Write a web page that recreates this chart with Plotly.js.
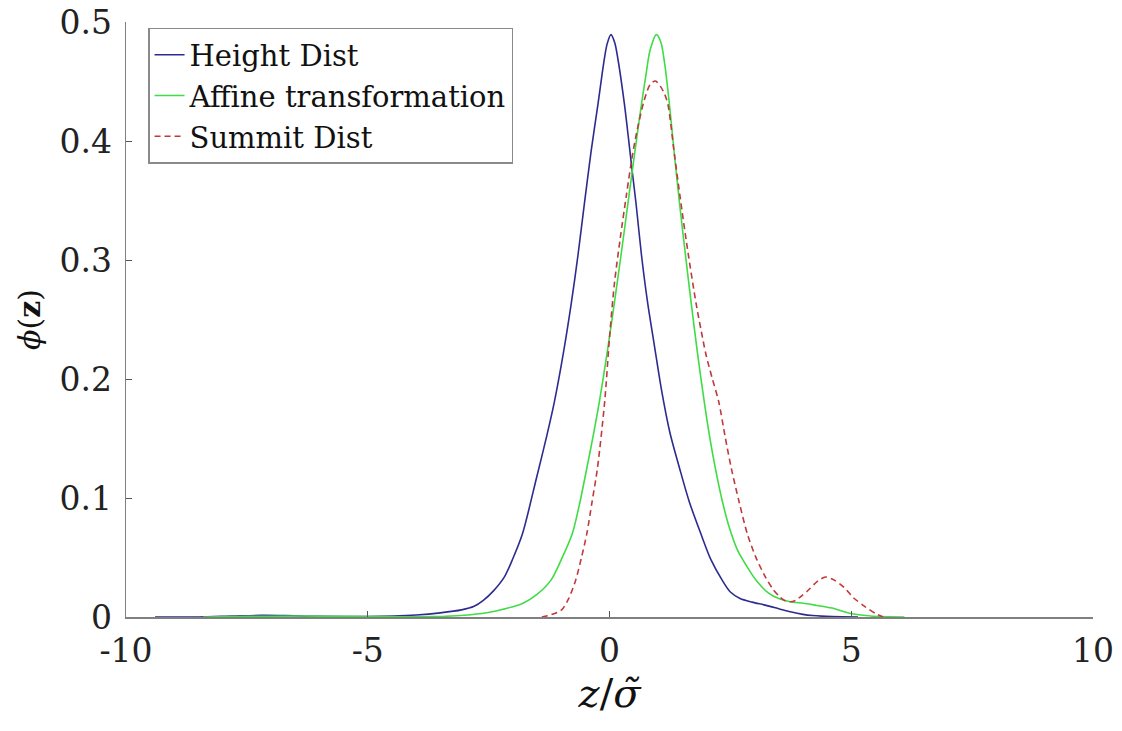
<!DOCTYPE html>
<html>
<head>
<meta charset="utf-8">
<script src="https://cdn.plot.ly/plotly-3.0.1.min.js"></script>
<style>html,body{margin:0;padding:0;background:#fff;}#chart{width:1122px;height:731px;}</style>
</head>
<body>
<div id="chart"></div>
<script>
// Series names
const seriesNames = ["Height Dist", "Affine transformation", "Summit Dist"];

// Height Dist (blue)
const heightX = [-9.4, -8.5, -7.8, -7.2, -6.7, -6.0, -5.0, -4.5, -4.0, -3.5, -3.06, -2.8, -2.61, -2.4, -2.17, -2.0, -1.80, -1.51, -1.30, -1.14, -0.95, -0.79, -0.65, -0.52, -0.38, -0.24, -0.12, -0.05, 0.03, 0.11, 0.18, 0.31, 0.40, 0.47, 0.55, 0.66, 0.79, 0.93, 1.08, 1.25, 1.45, 1.65, 1.89, 2.10, 2.33, 2.50, 2.70, 2.95, 3.22, 3.5, 3.74, 4.0, 4.2, 4.6, 5.14];
const heightY = [0, 0, 0.0008, 0.0014, 0.0012, 0.0005, 0.0004, 0.0008, 0.0017, 0.0035, 0.006, 0.009, 0.014, 0.022, 0.034, 0.049, 0.070, 0.117, 0.152, 0.181, 0.223, 0.264, 0.305, 0.3475, 0.392, 0.431, 0.466, 0.482, 0.49, 0.483, 0.468, 0.431, 0.400, 0.375, 0.3475, 0.305, 0.264, 0.228, 0.190, 0.155, 0.125, 0.097, 0.070, 0.048, 0.031, 0.021, 0.0156, 0.0125, 0.010, 0.007, 0.0044, 0.0022, 0.0012, 0.0003, 0];

// Affine transformation (green)
const affineX = [-8.4, -7.5, -6.5, -5.5, -4.5, -3.65, -3.0, -2.54, -2.2, -1.80, -1.5, -1.21, -1.0, -0.77, -0.62, -0.47, -0.34, -0.21, -0.05, 0.10, 0.24, 0.38, 0.47, 0.56, 0.66, 0.75, 0.84, 0.97, 1.06, 1.14, 1.24, 1.34, 1.45, 1.57, 1.69, 1.82, 1.96, 2.07, 2.19, 2.33, 2.48, 2.65, 2.85, 3.05, 3.29, 3.5, 3.74, 4.0, 4.25, 4.6, 4.99, 5.3, 5.58, 6.1];
const affineY = [0, 0.0005, 0.0008, 0.0005, 0.0003, 0.0003, 0.0015, 0.0036, 0.0065, 0.0114, 0.019, 0.031, 0.048, 0.070, 0.095, 0.125, 0.152, 0.181, 0.222, 0.264, 0.305, 0.3475, 0.375, 0.402, 0.431, 0.455, 0.477, 0.49, 0.484, 0.466, 0.431, 0.390, 0.3475, 0.305, 0.264, 0.222, 0.181, 0.152, 0.125, 0.098, 0.075, 0.056, 0.042, 0.030, 0.020, 0.0155, 0.0128, 0.0115, 0.010, 0.0075, 0.003, 0.0012, 0.0003, 0];

// Summit Dist (red dashed)
const summitX = [-1.40, -1.2, -0.99, -0.85, -0.70, -0.58, -0.47, -0.36, -0.25, -0.10, 0.0, 0.10, 0.22, 0.35, 0.48, 0.60, 0.72, 0.84, 0.95, 1.06, 1.14, 1.21, 1.34, 1.48, 1.63, 1.79, 1.9, 2.0, 2.13, 2.26, 2.39, 2.52, 2.68, 2.85, 3.03, 3.22, 3.37, 3.52, 3.64, 3.74, 3.85, 3.95, 4.11, 4.3, 4.47, 4.65, 4.85, 5.05, 5.29, 5.5, 5.66];
const summitY = [0, 0.002, 0.006, 0.015, 0.031, 0.050, 0.070, 0.097, 0.125, 0.181, 0.235, 0.280, 0.318, 0.355, 0.390, 0.415, 0.435, 0.448, 0.451, 0.446, 0.440, 0.431, 0.390, 0.3475, 0.305, 0.264, 0.240, 0.220, 0.200, 0.181, 0.152, 0.125, 0.097, 0.070, 0.050, 0.034, 0.024, 0.017, 0.0135, 0.0128, 0.014, 0.017, 0.0225, 0.030, 0.0336, 0.031, 0.025, 0.016, 0.0086, 0.003, 0];

// Axis ticks
const xTicks = [-10, -5, 0, 5, 10];
const xTickText = ["-10", "-5", "0", "5", "10"];
const yTicks = [0, 0.1, 0.2, 0.3, 0.4, 0.5];
const yTickText = ["0", "0.1", "0.2", "0.3", "0.4", "0.5"];

const serif = '"DejaVu Serif", "Liberation Serif", serif';

const traces = [
  {x: heightX, y: heightY, name: seriesNames[0], mode: "lines", type: "scatter",
   line: {color: "#2c2c90", width: 1.6, shape: "spline", smoothing: 0.8}},
  {x: affineX, y: affineY, name: seriesNames[1], mode: "lines", type: "scatter",
   line: {color: "#3fdc46", width: 1.6, shape: "spline", smoothing: 0.8}},
  {x: summitX, y: summitY, name: seriesNames[2], mode: "lines", type: "scatter",
   line: {color: "#c0393b", width: 1.6, dash: "6px,4px", shape: "spline", smoothing: 0.8}}
];

const layout = {
  width: 1122, height: 731,
  margin: {l: 126, r: 29, t: 22, b: 114},
  paper_bgcolor: "#ffffff", plot_bgcolor: "#ffffff",
  showlegend: true,
  legend: {x: 0.0228, y: 0.99, xanchor: "left", yanchor: "top",
           bordercolor: "#8a8a8a", borderwidth: 1.5, bgcolor: "#ffffff",
           font: {family: serif, size: 29, color: "#111"}, tracegroupgap: 0},
  xaxis: {range: [-10, 10], tickvals: xTicks, ticktext: xTickText,
          ticks: "inside", ticklen: 6, tickcolor: "#555", showgrid: false, zeroline: false,
          showline: true, linecolor: "#808080", linewidth: 1.5,
          ticklabelstandoff: 4, ticklabeloverflow: "allow",
          tickfont: {family: serif, size: 33, color: "#222"},
          title: {text: "<i>z</i>/<i>σ̃</i>", standoff: 8,
                  font: {family: serif, size: 40, color: "#111"}}},
  yaxis: {range: [0, 0.5006], tickvals: yTicks, ticktext: yTickText,
          ticks: "inside", ticklen: 6, tickcolor: "#555", showgrid: false, zeroline: false,
          showline: true, linecolor: "#808080", linewidth: 1.5,
          ticklabelstandoff: 6, ticklabeloverflow: "allow",
          tickfont: {family: serif, size: 33, color: "#222"},
          title: {text: "<i>ϕ</i>(<b>z</b>)", standoff: 10,
                  font: {family: serif, size: 30, color: "#111"}}}
};

Plotly.newPlot("chart", traces, layout, {displayModeBar: false, staticPlot: true});
</script>
</body>
</html>
